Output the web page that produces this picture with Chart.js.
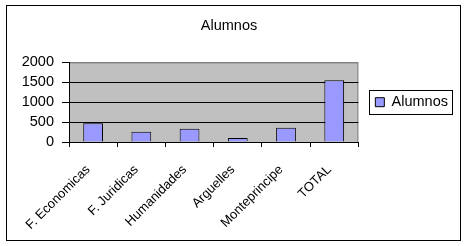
<!DOCTYPE html>
<html>
<head>
<meta charset="utf-8">
<script src="https://cdn.jsdelivr.net/npm/chart.js@4/dist/chart.umd.min.js"></script>
<style>
  html, body { margin: 0; padding: 0; background: #fff; }
  canvas { display: block; }
</style>
</head>
<body>
<canvas id="alumnosChart" width="467" height="246"></canvas>
<script>
const categories = ["F. Economicas", "F. Juridicas", "Humanidades", "Arguelles", "Monteprincipe", "TOTAL"];
const alumnos = [470, 260, 335, 100, 360, 1550];
const yTicks = [0, 500, 1000, 1500, 2000];

const FONT = "'Liberation Sans', Arial, sans-serif";

// plot background, outer frame and legend frame
const frames = {
  id: "frames",
  beforeDraw(chart) {
    const { ctx, chartArea: a } = chart;
    ctx.save();
    ctx.fillStyle = "#fff";
    ctx.fillRect(0, 0, chart.width, chart.height);
    ctx.fillStyle = "#c0c0c0";
    ctx.fillRect(a.left, a.top, a.right - a.left, a.bottom - a.top);
    ctx.strokeStyle = "#808080";
    ctx.lineWidth = 1;
    ctx.strokeRect(a.left + 0.5, a.top + 0.5, a.right - a.left - 1, a.bottom - a.top);
    ctx.restore();
  },
  afterDraw(chart) {
    const ctx = chart.ctx;
    ctx.save();
    ctx.strokeStyle = "#000";
    ctx.lineWidth = 1;
    ctx.strokeRect(6.5, 5.5, 454, 235);
    const hb = chart.legend.legendHitBoxes[0];
    if (hb) {
      const cy = hb.top + hb.height / 2;
      ctx.strokeRect(Math.round(hb.left - 6) + 0.5, Math.round(cy - 12) + 0.5, Math.round(hb.width + 10), 24);
    }
    ctx.restore();
  }
};

const ctx = document.getElementById("alumnosChart").getContext("2d");
new Chart(ctx, {
  type: "bar",
  data: {
    labels: categories,
    datasets: [
      {
        label: "Alumnos",
        data: alumnos,
        backgroundColor: "#9999ff",
        borderColor: "#000",
        borderWidth: 1,
        barPercentage: 0.41,
        categoryPercentage: 1,
      },
    ],
  },
  options: {
    responsive: false,
    animation: false,
    devicePixelRatio: 1,
    layout: { padding: { left: 0, right: 9, top: 0, bottom: 0 } },
    plugins: {
      title: {
        display: true,
        text: "Alumnos",
        color: "#000",
        font: { family: FONT, size: 14.5, weight: "normal" },
        padding: { top: 17, bottom: 28 },
      },
      legend: {
        position: "right",
        fullSize: false,
        labels: {
          color: "#000",
          font: { family: FONT, size: 14.5 },
          boxWidth: 9,
          boxHeight: 9,
          padding: 17,
          generateLabels(chart) {
            return [{
              text: "Alumnos",
              fillStyle: "#9999ff",
              strokeStyle: "#000",
              lineWidth: 1,
              datasetIndex: 0,
            }];
          },
        },
      },
      tooltip: { enabled: false },
    },
    scales: {
      x: {
        grid: {
          offset: true,
          drawOnChartArea: false,
          drawTicks: true,
          tickLength: 5,
          tickColor: "#000",
        },
        border: { color: "#000", width: 1 },
        ticks: {
          color: "#000",
          font: { family: FONT, size: 13 },
          autoSkip: false,
          maxRotation: 45,
          minRotation: 45,
          labelOffset: -5,
          padding: 15,
        },
        afterFit(scale) { scale.height = 104; },
      },
      y: {
        min: yTicks[0],
        max: yTicks[yTicks.length - 1],
        grid: {
          color: (c) => (c.tick && c.tick.value === 2000 ? "#808080" : "#000"),
          tickColor: "#000",
          tickLength: 7,
        },
        border: { color: "#000", width: 1 },
        ticks: {
          stepSize: 500,
          autoSkip: false,
          color: "#000",
          font: { family: FONT, size: 14.5 },
          padding: 8,
          callback: (v) => String(v),
        },
        afterFit(scale) { scale.width = 69; },
      },
    },
  },
  plugins: [frames],
});
</script>
</body>
</html>
